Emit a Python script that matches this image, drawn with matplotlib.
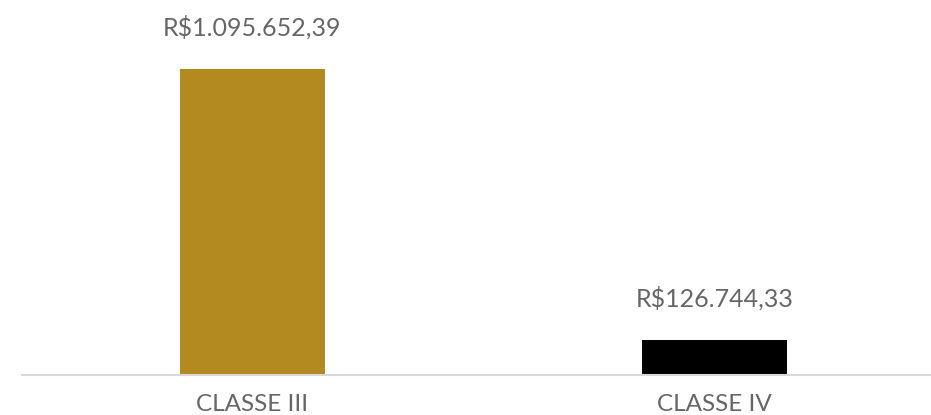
import matplotlib.pyplot as plt

# dados do grafico
categorias = ["CLASSE III", "CLASSE IV"]
valores = [1095652.39, 126744.33]
rotulos = ["R$1.095.652,39", "R$126.744,33"]
cores = ["#B38A20", "#000000"]

plt.rcParams['font.family'] = ['Lato', 'DejaVu Sans']

fig = plt.figure(figsize=(9.31, 4.15), dpi=100)
ax = fig.add_axes([22 / 931, 1 - 375 / 415, (931 - 22) / 931, 375 / 415])

x = range(len(categorias))
ax.bar(x, valores, width=0.314, color=cores)

for i, v in enumerate(valores):
    ax.text(i, v + 1095652.39 * 0.095, rotulos[i], ha="center", va="bottom",
            fontsize=18, color="#666666", fontweight="normal")

ax.set_xlim(-0.499, 1.469)
ax.set_ylim(0, 1095652.39 * 375 / 306)
ax.set_xticks(list(x))
ax.set_xticklabels(categorias, fontsize=17.5, color="#666666", fontweight="normal")
ax.tick_params(axis="x", length=0, pad=14)
ax.set_yticks([])
for s in ["top", "right", "left"]:
    ax.spines[s].set_visible(False)
ax.spines["bottom"].set_color("#D9D9D9")
ax.spines["bottom"].set_linewidth(1.5)

fig.savefig("out.png", dpi=100)
